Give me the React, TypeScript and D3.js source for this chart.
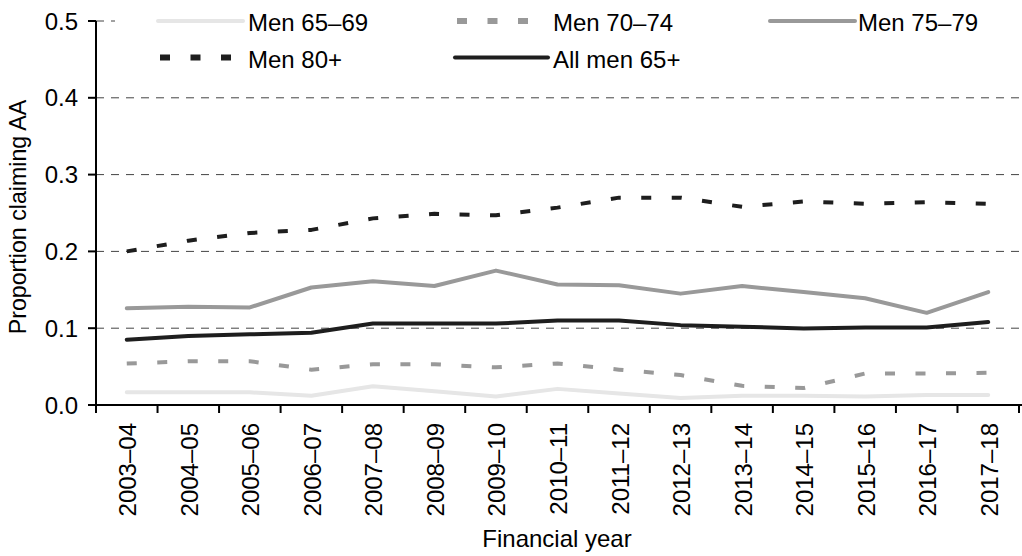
import React from "react";
import * as d3 from "d3";

const years = ["2003–04","2004–05","2005–06","2006–07","2007–08","2008–09","2009–10","2010–11","2011–12","2012–13","2013–14","2014–15","2015–16","2016–17","2017–18"];
const men6569 = [0.0165,0.0165,0.0165,0.012,0.0245,0.018,0.011,0.021,0.015,0.009,0.012,0.012,0.011,0.013,0.013];
const men7074 = [0.054,0.057,0.057,0.046,0.053,0.053,0.049,0.054,0.046,0.039,0.025,0.022,0.041,0.041,0.042];
const men7579 = [0.126,0.128,0.127,0.153,0.161,0.155,0.175,0.157,0.156,0.145,0.155,0.147,0.139,0.120,0.147];
const men80 = [0.200,0.214,0.224,0.228,0.243,0.249,0.247,0.257,0.270,0.270,0.258,0.265,0.262,0.264,0.262];
const allMen = [0.085,0.090,0.092,0.094,0.106,0.106,0.106,0.110,0.110,0.104,0.102,0.0995,0.101,0.101,0.108];
const yTicks = [0, 0.1, 0.2, 0.3, 0.4, 0.5];

const series = [
  { name: "Men 65–69", values: men6569, color: "#e6e6e6", dash: "" },
  { name: "Men 70–74", values: men7074, color: "#999999", dash: "10,20.5" },
  { name: "Men 75–79", values: men7579, color: "#999999", dash: "" },
  { name: "Men 80+", values: men80, color: "#1e1e1e", dash: "10,20.5" },
  { name: "All men 65+", values: allMen, color: "#1e1e1e", dash: "" },
];

const legendItems = [
  { s: 0, x1: 158, x2: 243, y: 21, tx: 248 },
  { s: 1, x1: 457, x2: 538, y: 21, tx: 553 },
  { s: 2, x1: 770, x2: 855, y: 21, tx: 858 },
  { s: 3, x1: 160, x2: 238, y: 57.5, tx: 248 },
  { s: 4, x1: 455, x2: 548, y: 57.5, tx: 553 },
];

export default function App() {
  const W = 1022, H = 556;
  const left = 96, right = 1019, top = 21, bottom = 405;
  const x = d3.scaleBand<string>().domain(years).range([left, right]);
  const y = d3.scaleLinear().domain([0, 0.5]).range([bottom, top]);
  const cx = (i: number) => (x(years[i]) as number) + x.bandwidth() / 2;
  const line = d3.line<number>().x((_, i) => cx(i)).y((d) => y(d));
  const font = "'Liberation Sans', Arial, sans-serif";
  const boundaries = years.map((yr) => x(yr) as number).concat([right]);
  const fs = 24;

  return (
    <svg width={W} height={H} style={{ position: "absolute", left: 0, top: 0, background: "#fff" }} fontFamily={font}>
      {yTicks.filter((t) => t > 0).map((t) => (
        <line key={t} x1={left} x2={W} y1={y(t)} y2={y(t)} stroke="#444" strokeWidth={1} strokeDasharray="8,7" />
      ))}
      <rect x={115} y={0} width={W - 115} height={80} fill="#fff" />
      {series.map((s) => (
        <path key={s.name} d={line(s.values) || ""} fill="none" stroke={s.color} strokeWidth={4}
          strokeDasharray={s.dash || undefined} strokeLinejoin="round" strokeLinecap={s.dash ? "butt" : "round"} />
      ))}
      {/* y axis */}
      <line x1={left} x2={left} y1={top} y2={bottom} stroke="#000" strokeWidth={2} />
      {yTicks.map((t) => (
        <g key={t}>
          <line x1={left - 8} x2={left} y1={y(t)} y2={y(t)} stroke="#000" strokeWidth={2} />
          <text x={78} y={y(t)} textAnchor="end" dominantBaseline="central" fontSize={fs} fill="#000">{t.toFixed(1)}</text>
        </g>
      ))}
      {/* x axis */}
      <line x1={left - 1} x2={W} y1={bottom} y2={bottom} stroke="#000" strokeWidth={2} />
      {boundaries.map((b, i) => (
        <line key={i} x1={b} x2={b} y1={bottom} y2={bottom + 8} stroke="#000" strokeWidth={2} />
      ))}
      {years.map((yr, i) => (
        <text key={yr} transform={`translate(${cx(i) + 1},${423}) rotate(-90)`} textAnchor="end" dominantBaseline="central" fontSize={fs} fill="#000">{yr}</text>
      ))}
      <text x={557} y={547} textAnchor="middle" fontSize={fs} fill="#000">Financial year</text>
      <text transform={`translate(18,${217}) rotate(-90)`} textAnchor="middle" dominantBaseline="central" fontSize={23.2} fill="#000">Proportion claiming AA</text>
      {/* legend */}
      {legendItems.map((l) => {
        const s = series[l.s];
        return (
          <g key={s.name}>
            <line x1={l.x1} x2={l.x2} y1={l.y} y2={l.y} stroke={s.color} strokeWidth={s.dash ? 6 : 4}
              strokeDasharray={s.dash || undefined} strokeLinecap={s.dash ? "butt" : "round"} />
            <text x={l.tx} y={l.y + 10} fontSize={fs} fill="#000">{s.name}</text>
          </g>
        );
      })}
    </svg>
  );
}
